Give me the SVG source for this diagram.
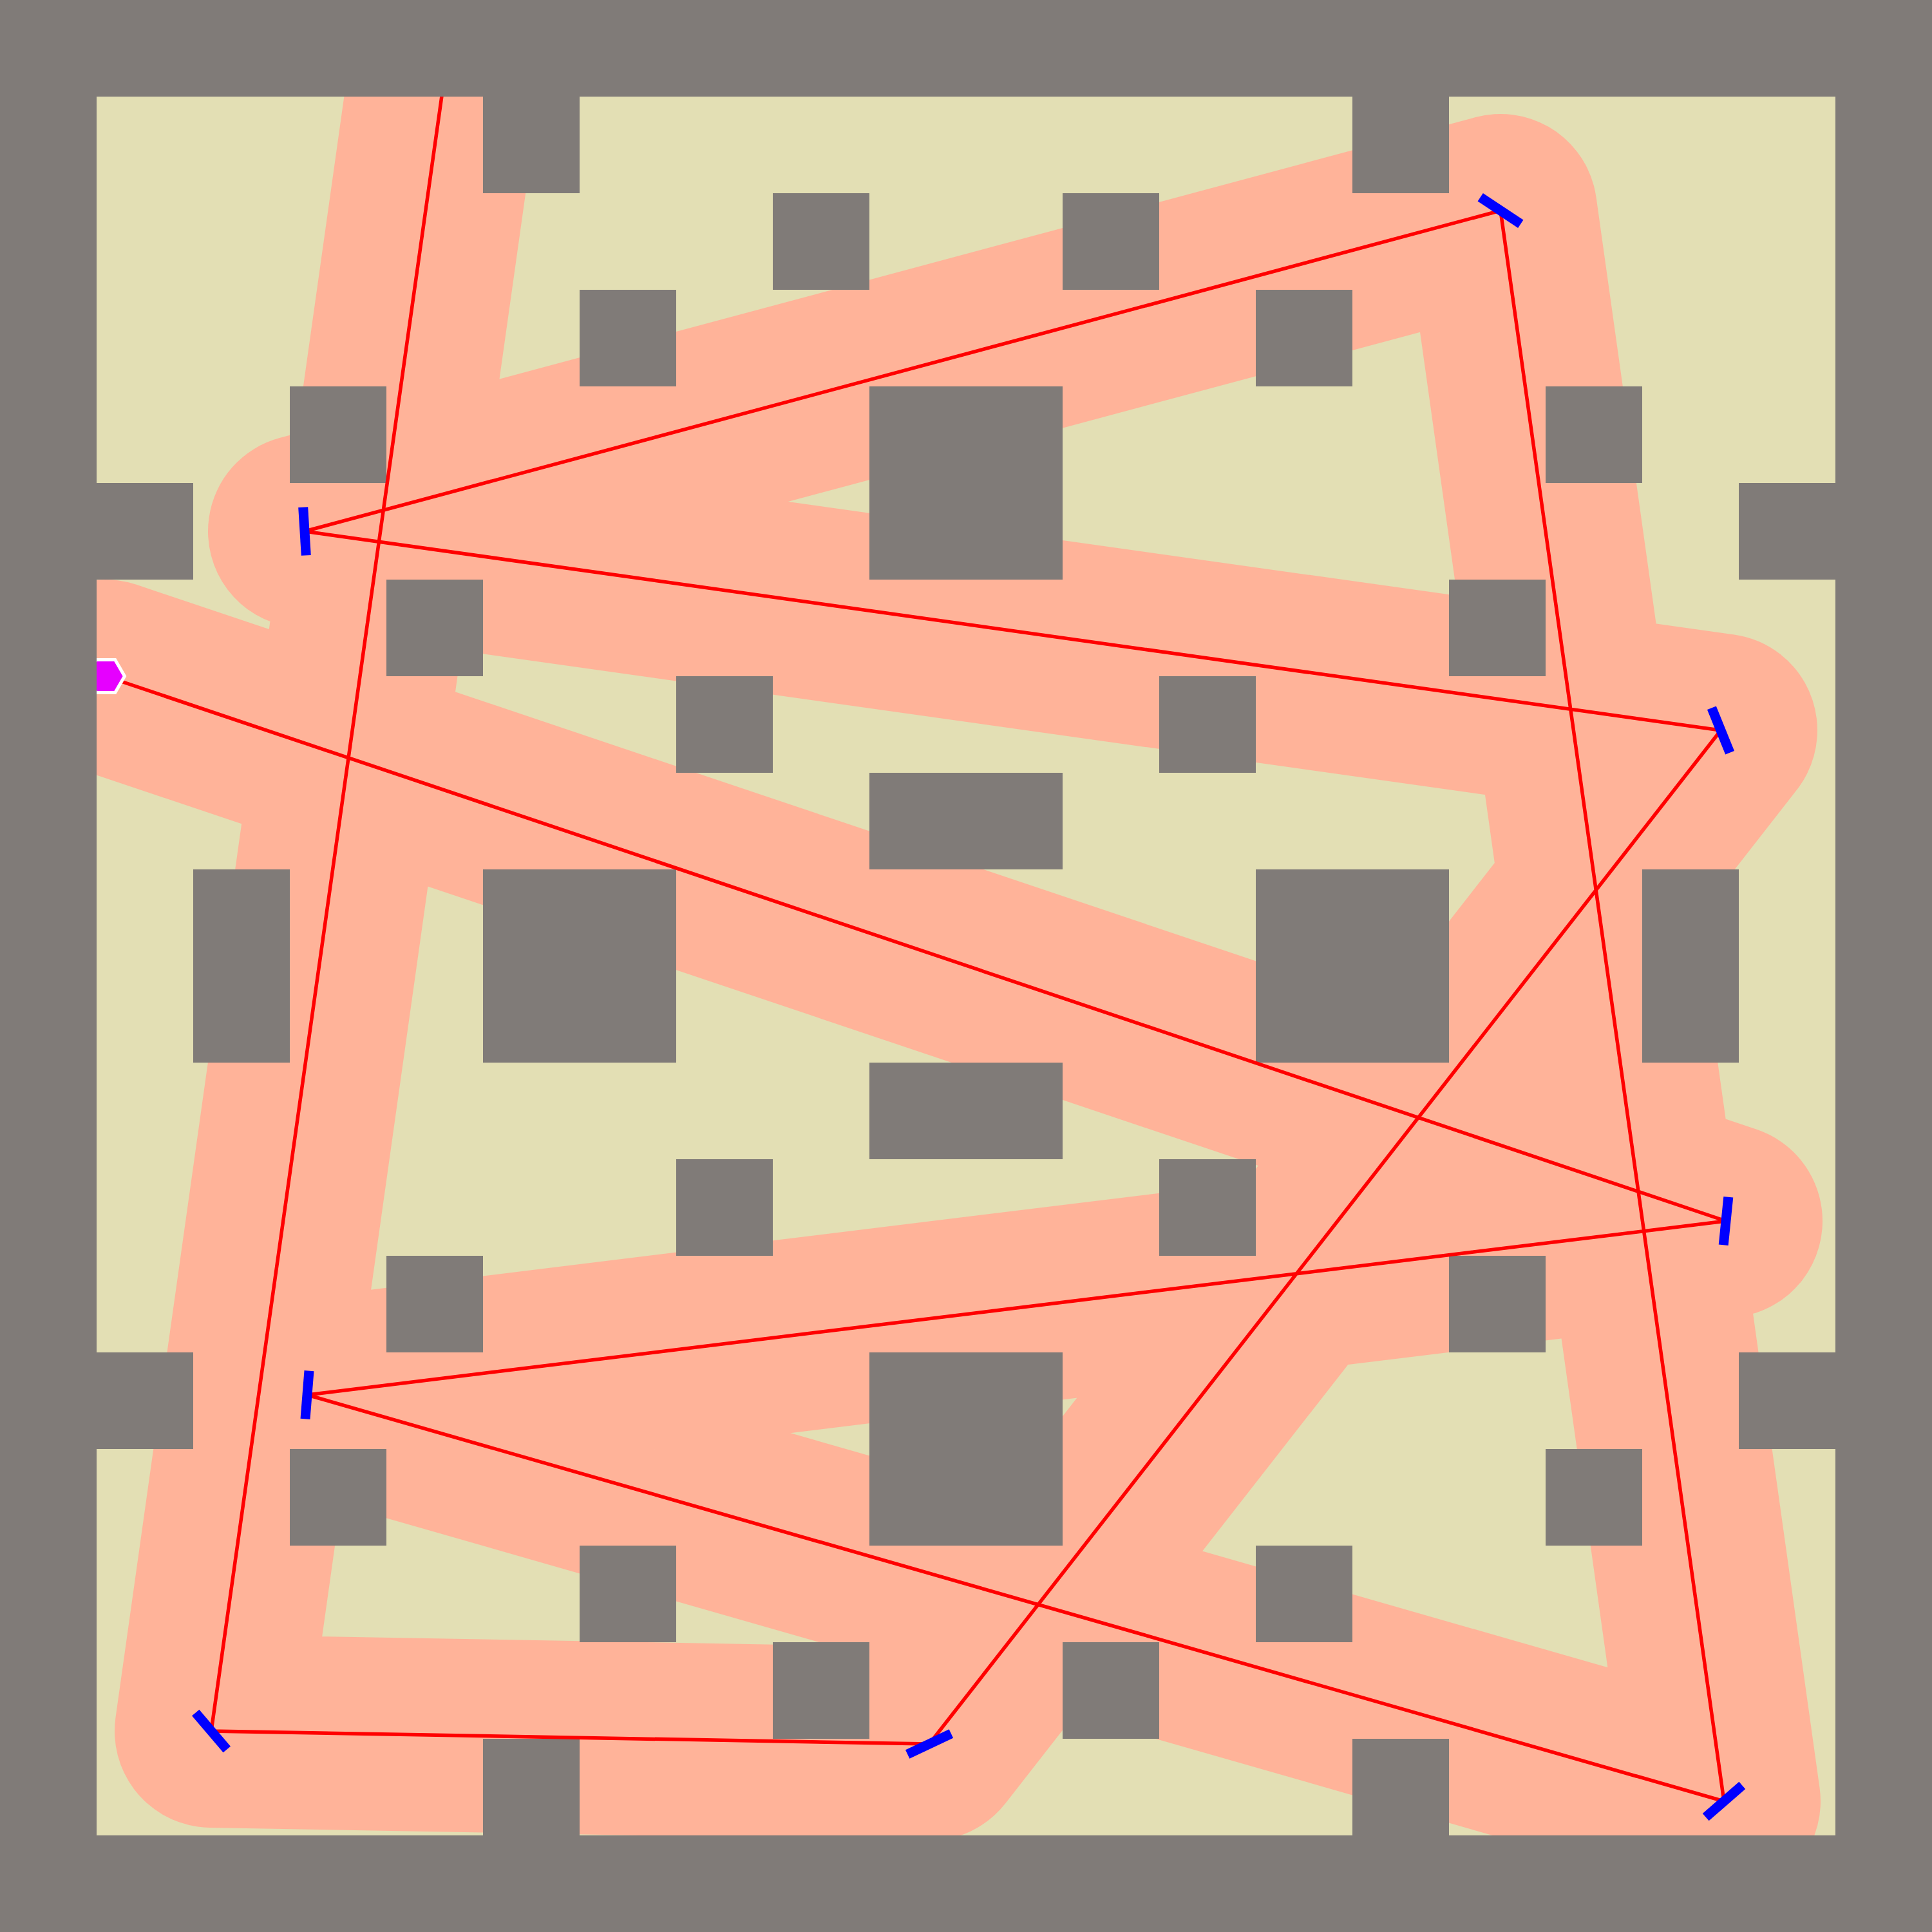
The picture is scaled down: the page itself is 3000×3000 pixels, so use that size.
<svg xmlns="http://www.w3.org/2000/svg" width="3000" height="3000" viewBox="0 0 3000 3000">
<style>
.obs{fill:#807b78}
.corridor{fill:none;stroke:#ffb399;stroke-width:300;stroke-linejoin:round;stroke-linecap:round}
.route{fill:none;stroke:#ff0000;stroke-width:5.5;stroke-linejoin:miter}
.tick{stroke:#0000ff;stroke-width:15;stroke-linecap:butt}
</style>
<rect id="field" x="150" y="150" width="2700" height="2700" fill="#e3dfb4"/>
<g id="corridor">
<polyline class="corridor" points="707,0 328,2688 1443,2708 2672,1134 473,825 2330,327 2677,2797 477,2166 2680,1896 164,1050"/>
</g>
<g id="obstacles">
<rect class="obs" x="750" y="150" width="150" height="150"/>
<rect class="obs" x="2100" y="150" width="150" height="150"/>
<rect class="obs" x="1200" y="300" width="150" height="150"/>
<rect class="obs" x="1650" y="300" width="150" height="150"/>
<rect class="obs" x="900" y="450" width="150" height="150"/>
<rect class="obs" x="1950" y="450" width="150" height="150"/>
<rect class="obs" x="450" y="600" width="150" height="150"/>
<rect class="obs" x="1350" y="600" width="300" height="300"/>
<rect class="obs" x="2400" y="600" width="150" height="150"/>
<rect class="obs" x="150" y="750" width="150" height="150"/>
<rect class="obs" x="2700" y="750" width="150" height="150"/>
<rect class="obs" x="600" y="900" width="150" height="150"/>
<rect class="obs" x="2250" y="900" width="150" height="150"/>
<rect class="obs" x="1050" y="1050" width="150" height="150"/>
<rect class="obs" x="1800" y="1050" width="150" height="150"/>
<rect class="obs" x="1350" y="1200" width="300" height="150"/>
<rect class="obs" x="300" y="1350" width="150" height="300"/>
<rect class="obs" x="750" y="1350" width="300" height="300"/>
<rect class="obs" x="1950" y="1350" width="300" height="300"/>
<rect class="obs" x="2550" y="1350" width="150" height="300"/>
<rect class="obs" x="1350" y="1650" width="300" height="150"/>
<rect class="obs" x="1050" y="1800" width="150" height="150"/>
<rect class="obs" x="1800" y="1800" width="150" height="150"/>
<rect class="obs" x="600" y="1950" width="150" height="150"/>
<rect class="obs" x="2250" y="1950" width="150" height="150"/>
<rect class="obs" x="150" y="2100" width="150" height="150"/>
<rect class="obs" x="1350" y="2100" width="300" height="300"/>
<rect class="obs" x="2700" y="2100" width="150" height="150"/>
<rect class="obs" x="450" y="2250" width="150" height="150"/>
<rect class="obs" x="2400" y="2250" width="150" height="150"/>
<rect class="obs" x="900" y="2400" width="150" height="150"/>
<rect class="obs" x="1950" y="2400" width="150" height="150"/>
<rect class="obs" x="1200" y="2550" width="150" height="150"/>
<rect class="obs" x="1650" y="2550" width="150" height="150"/>
<rect class="obs" x="750" y="2700" width="150" height="150"/>
<rect class="obs" x="2100" y="2700" width="150" height="150"/>
</g>
<g id="connectors">
<polyline class="route" points="707,0 328,2688 1443,2708 2672,1134 473,825 2330,327 2677,2797 477,2166 2680,1896 164,1050"/>
</g>
<g id="waypoints">
<line class="tick" x1="303.7" y1="2659.5" x2="352.3" y2="2716.5"/>
<line class="tick" x1="1409.2" y1="2724.1" x2="1476.9" y2="2691.9"/>
<line class="tick" x1="2657.9" y1="1099.2" x2="2686.1" y2="1168.8"/>
<line class="tick" x1="470.7" y1="787.6" x2="475.3" y2="862.4"/>
<line class="tick" x1="2298.7" y1="306.3" x2="2361.3" y2="347.7"/>
<line class="tick" x1="2705.3" y1="2772.4" x2="2648.7" y2="2821.6"/>
<line class="tick" x1="480.0" y1="2128.6" x2="474.0" y2="2203.4"/>
<line class="tick" x1="2683.8" y1="1858.7" x2="2676.2" y2="1933.3"/>
</g>
<g id="goal">
<polygon points="193.5,1050 178.75,1024.45 149.25,1024.45 134.5,1050 149.25,1075.55 178.75,1075.55" fill="#e600ff" stroke="#ffffff" stroke-width="5"/>
</g>
<path id="frame" d="M0 0H3000V3000H0Z M150 150V2850H2850V150Z" fill="#807b78" fill-rule="evenodd"/>
</svg>
